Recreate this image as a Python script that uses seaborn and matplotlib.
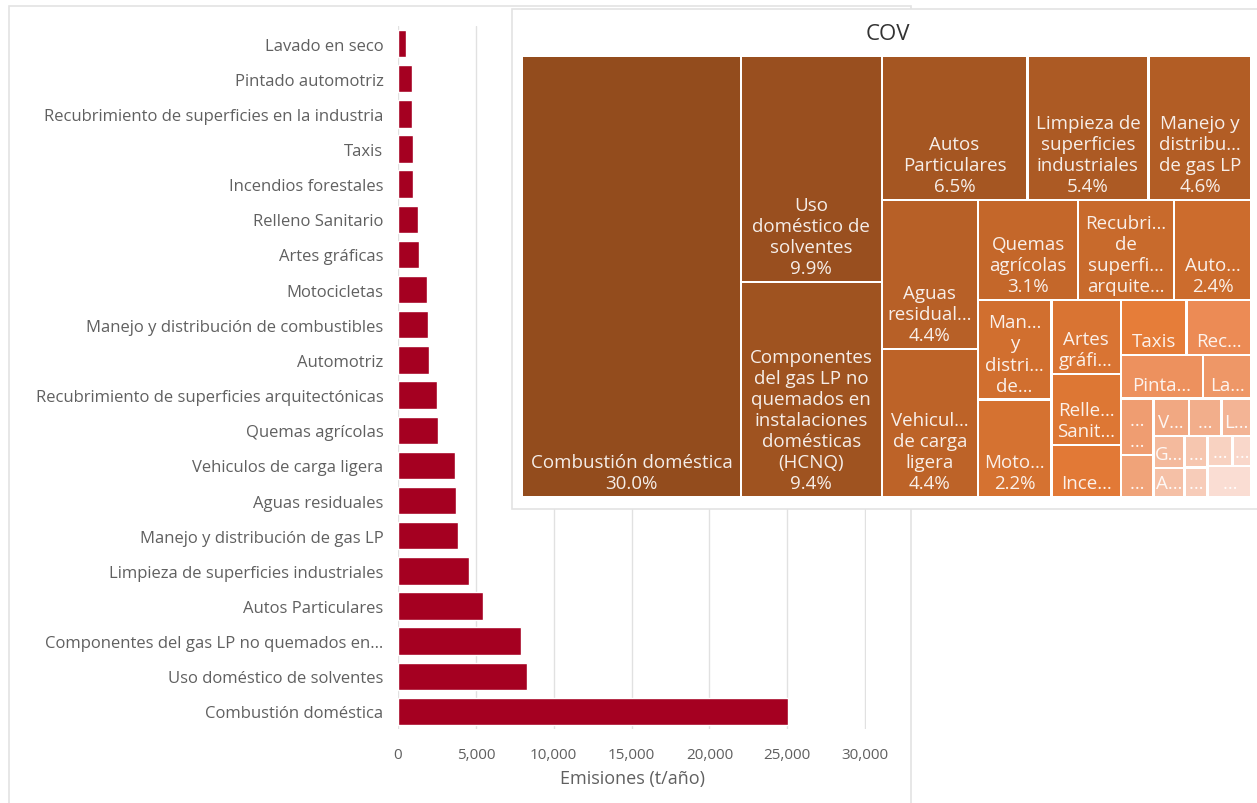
import matplotlib
matplotlib.use("Agg")
import matplotlib.pyplot as plt
import seaborn as sns
import pandas as pd
from matplotlib.patches import Rectangle
from matplotlib.colors import LinearSegmentedColormap
from matplotlib.ticker import FuncFormatter, MultipleLocator

sns.set_theme(style="white")
plt.rcParams["font.family"] = ["Open Sans", "DejaVu Sans"]

# Emission sources, largest first (t/año)
sources = [
    "Combustión doméstica",
    "Uso doméstico de solventes",
    "Componentes del gas LP no quemados en instalaciones domésticas (HCNQ)",
    "Autos Particulares",
    "Limpieza de superficies industriales",
    "Manejo y distribución de gas LP",
    "Aguas residuales",
    "Vehiculos de carga ligera",
    "Quemas agrícolas",
    "Recubrimiento de superficies arquitectónicas",
    "Automotriz",
    "Manejo y distribución de combustibles",
    "Motocicletas",
    "Artes gráficas",
    "Relleno Sanitario",
    "Incendios forestales",
    "Taxis",
    "Recubrimiento de superficies en la industria",
    "Pintado automotriz",
    "Lavado en seco",
]
emissions = [25050, 8270, 7870, 5440, 4530, 3850, 3710, 3690, 2600, 2480,
             2010, 1895, 1865, 1330, 1280, 945, 940, 928, 925, 541]

# Minor sources that only appear in the treemap
minor_emissions = [480, 358, 345, 311, 292, 259, 235, 191, 179, 196, 150, 358]

# Treemap cell captions (wrapped / shortened as they fit in each cell)
tree_labels = [
    "Combustión doméstica", "Uso\ndoméstico de\nsolventes",
    "Componentes\ndel gas LP no\nquemados en\ninstalaciones\ndomésticas\n(HCNQ)",
    "Autos\nParticulares", "Limpieza de\nsuperficies\nindustriales",
    "Manejo y\ndistribu…\nde gas LP", "Aguas\nresidual…",
    "Vehicul…\nde carga\nligera", "Quemas\nagrícolas",
    "Recubri…\nde\nsuperfi…\narquite…", "Auto…", "Man…\ny\ndistri…\nde…",
    "Moto…", "Artes\ngráfi…", "Relle…\nSanit…", "Ince…", "Taxis", "Rec…",
    "Pinta…", "La…", "…\n…", "…", "V…", "…", "L…", "G…", "A…",
    "…", "…", "…", "…", "…",
]
# Cells large enough to also show their share
tree_show_pct = [True] * 9 + [False, True, False, True] + [False] * 19

TITLE = "COV"
XLABEL = "Emisiones (t/año)"

W, H = 1257, 804
fig = plt.figure(figsize=(W / 100, H / 100), dpi=100)
fig.patch.set_facecolor("white")


def fx(px):
    return px / W


def fy(py):
    return 1 - py / H


# ---- outer frame of the bar chart card ----
fig.patches.append(Rectangle((fx(9), fy(806)), fx(911) - fx(9), fy(7) - fy(806),
                             transform=fig.transFigure, facecolor="white",
                             edgecolor="#E3E3E3", lw=1.2, zorder=-1))

# ---- horizontal bar chart ----
def short_name(name, limit=48, keep=37):
    return name if len(name) <= limit else name[:keep] + "…"

bar_df = pd.DataFrame({
    "fuente": [short_name(s) for s in sources[::-1]],
    "emisiones": emissions[::-1],
})

ax = fig.add_axes([fx(398), fy(730), fx(866) - fx(398), fy(27) - fy(730)])
ax.set_facecolor("none")
sns.barplot(data=bar_df, x="emisiones", y="fuente", orient="h",
            color="#A50021", saturation=1, width=0.78, ax=ax, zorder=3)
ax.set_xlim(0, 30050)
ax.xaxis.set_major_locator(MultipleLocator(5000))
ax.xaxis.set_major_formatter(FuncFormatter(lambda v, p: f"{int(v):,}"))
ax.grid(axis="x", color="#E1E1E1", lw=1, zorder=0)
ax.grid(axis="y", visible=False)
for s in ax.spines.values():
    s.set_visible(False)
ax.tick_params(axis="y", length=0, pad=10.5, labelsize=12, labelcolor="#606060")
ax.tick_params(axis="x", length=0, pad=13, labelsize=11, labelcolor="#606060")
ax.set_ylabel("")
ax.set_xlabel(XLABEL, fontsize=13, color="#606060", labelpad=5)

# ---- treemap card ----
fig.patches.append(Rectangle((fx(512), fy(510)), fx(1262) - fx(512), fy(10) - fy(510),
                             transform=fig.transFigure, facecolor="white",
                             edgecolor="#E3E3E3", lw=1.2, zorder=5))
fig.text(fx(888), fy(35), TITLE, ha="center", va="center", fontsize=16,
         color="#333333", zorder=6)

tree_values = emissions + minor_emissions
total = float(sum(tree_values))

TX0, TY0, TW, TH = 522, 57, 729.5, 441.5
axt = fig.add_axes([fx(TX0), fy(TY0 + TH), fx(TW), fy(TY0) - fy(TY0 + TH)])
axt.set_xlim(0, TW)
axt.set_ylim(TH, 0)
axt.axis("off")
axt.set_zorder(10)


def worst(row, side):
    s = sum(row)
    return max(max(side * side * r / (s * s), (s * s) / (side * side * r)) for r in row)


def squarify(vals, x, y, w, h, gain=0.8):
    """Squarified layout; a value joins the current strip only when it makes
    the strip's worst aspect ratio clearly better (by the factor ``gain``)."""
    scale = w * h / sum(vals)
    areas = [v * scale for v in vals]
    rects = []
    i = 0
    while i < len(areas):
        side = min(w, h)
        row = [areas[i]]
        j = i + 1
        while j < len(areas) and worst(row + [areas[j]], side) < gain * worst(row, side):
            row.append(areas[j])
            j += 1
        s = sum(row)
        if w >= h:
            cw = s / h
            cy = y
            for a in row:
                ch = a / cw
                rects.append((x, cy, cw, ch))
                cy += ch
            x += cw
            w -= cw
        else:
            rh = s / w
            cx = x
            for a in row:
                cwid = a / rh
                rects.append((cx, y, cwid, rh))
                cx += cwid
            y += rh
            h -= rh
        i = j
    return rects


rects = squarify(tree_values, 0, 0, TW, TH)

n = len(tree_values)
stops = [(0.0, "#934C1D"), (8 / (n - 1), "#C4672A"), (16 / (n - 1), "#E67C38"),
         (17 / (n - 1), "#EC8B55"), (1.0, "#FADDD3")]
cmap = LinearSegmentedColormap.from_list("cov", stops)

gap = 1.2
for k, ((x, y, w, h), v) in enumerate(zip(rects, tree_values)):
    color = cmap(k / (n - 1))
    axt.add_patch(Rectangle((x + gap, y + gap), w - 2 * gap, h - 2 * gap,
                            facecolor=color, edgecolor="none"))
    label = tree_labels[k]
    if tree_show_pct[k]:
        label += f"\n{100 * v / total:.1f}%"
    axt.text(x + w / 2, y + h - 5, label, ha="center", va="bottom",
             fontsize=13.5, color="white", alpha=0.9, linespacing=1.22,
             zorder=11)

fig.savefig("out.png", dpi=100, facecolor="white")
